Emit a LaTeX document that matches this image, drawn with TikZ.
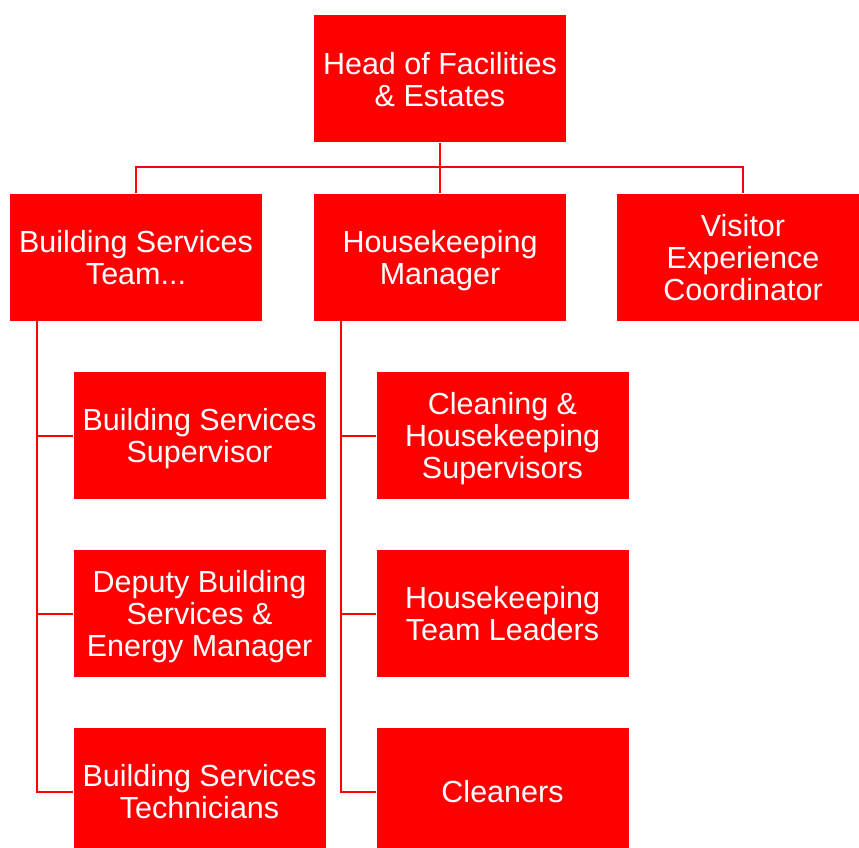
\documentclass[tikz,border=0pt]{standalone}
\usepackage{fontspec}
\setmainfont{Liberation Sans}
\definecolor{boxred}{HTML}{FF0000}
\begin{document}
\begin{tikzpicture}[x=1pt,y=-1pt,
  orgbox/.style={fill=boxred, draw=none, minimum width=252pt, minimum height=127pt,
    inner sep=0pt, text=white, align=center, text depth=0pt,
    font=\fontsize{30.5pt}{32pt}\selectfont},
  link/.style={draw=boxred, line width=2pt}]
\useasboundingbox (0,0) rectangle (859,848);
\clip (0,0) rectangle (859,848);
\node[orgbox] (top) at (440,79) {Head of Facilities\\ \& Estates};
\node[orgbox] (bst) at (136,257) {Building Services\\ Team...};
\node[orgbox] (hm) at (440,257) {Housekeeping\\ Manager};
\node[orgbox] (vec) at (743,257) {Visitor\\ Experience\\ Coordinator};
\node[orgbox] (l1) at (199.5,435.5) {Building Services\\ Supervisor};
\node[orgbox] (l2) at (199.5,613.5) {Deputy Building\\ Services \&\\ Energy Manager};
\node[orgbox] (l3) at (199.5,791.5) {Building Services\\ Technicians};
\node[orgbox] (r1) at (502.5,435.5) {Cleaning \&\\ Housekeeping\\ Supervisors};
\node[orgbox] (r2) at (502.5,613.5) {Housekeeping\\ Team Leaders};
\node[orgbox] (r3) at (502.5,791.5) {Cleaners};
\coordinate (bar) at (0,167);
\draw[link] (top.south) -- (hm.north);
\draw[link] (bst.north) |- (bar -| top.south) -| (vec.north);
\foreach \c in {l1,l2,l3} \draw[link] (bst.south west) ++(27,0) |- (\c.west);
\foreach \c in {r1,r2,r3} \draw[link] (hm.south west) ++(27,0) |- (\c.west);
\end{tikzpicture}
\end{document}
